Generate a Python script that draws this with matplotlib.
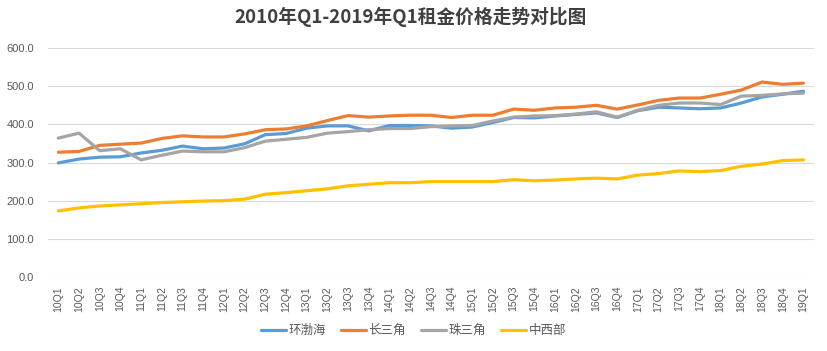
import matplotlib
matplotlib.use("Agg")
import matplotlib.pyplot as plt

plt.rcParams['font.family'] = ['Noto Sans CJK SC', 'DejaVu Sans']

quarters = ["10Q1", "10Q2", "10Q3", "10Q4", "11Q1", "11Q2", "11Q3", "11Q4",
            "12Q1", "12Q2", "12Q3", "12Q4", "13Q1", "13Q2", "13Q3", "13Q4",
            "14Q1", "14Q2", "14Q3", "14Q4", "15Q1", "15Q2", "15Q3", "15Q4",
            "16Q1", "16Q2", "16Q3", "16Q4", "17Q1", "17Q2", "17Q3", "17Q4",
            "18Q1", "18Q2", "18Q3", "18Q4", "19Q1"]

huanbohai = [299, 309, 314, 315, 325, 332, 343, 336, 338, 349, 373, 376,
             390, 396, 396, 383, 397, 397, 396, 390, 393, 405, 418, 417,
             422, 426, 430, 418, 436, 445, 443, 441, 443, 456, 472, 479, 487]
changsanjiao = [327, 329, 345, 348, 351, 363, 370, 367, 367, 375, 386, 388,
                396, 410, 423, 419, 422, 424, 424, 418, 424, 424, 440, 437,
                443, 445, 450, 440, 451, 463, 469, 469, 479, 490, 511, 505, 508]
zhusanjiao = [364, 377, 331, 336, 307, 319, 330, 328, 328, 339, 356, 361,
              366, 377, 381, 386, 389, 389, 394, 396, 397, 409, 419, 422,
              423, 427, 433, 419, 437, 450, 456, 456, 452, 474, 476, 480, 482]
zhongxibu = [173, 181, 186, 189, 192, 195, 197, 199, 200, 204, 217, 221,
             226, 231, 239, 243, 247, 247, 250, 250, 250, 250, 255, 252,
             254, 257, 259, 257, 267, 271, 278, 276, 279, 290, 296, 305, 307]

series_names = ["环渤海", "长三角", "珠三角", "中西部"]
series_values = [huanbohai, changsanjiao, zhusanjiao, zhongxibu]
colors = ["#5B9BD5", "#ED7D31", "#A5A5A5", "#FFC000"]

fig = plt.figure(figsize=(8.27, 3.51), dpi=100)
ax = fig.add_axes([0.058, 0.211, 0.926, 0.652])

x = list(range(len(quarters)))
for name, vals, c in zip(series_names, series_values, colors):
    ax.plot(x, vals, color=c, lw=2.3, label=name, solid_capstyle='round',
            solid_joinstyle='round')

ax.set_ylim(0, 600)
ax.set_xlim(-0.5, len(quarters) - 0.5)
ax.set_yticks(range(0, 601, 100))
ax.set_yticklabels([f"{v:.1f}" for v in range(0, 601, 100)],
                   family=['Liberation Sans', 'DejaVu Sans'], fontsize=8)
ax.set_xticks(x)
ax.set_xticklabels(quarters, rotation=90,
                   family=['Liberation Sans', 'DejaVu Sans'], fontsize=7.5)
ax.tick_params(axis='both', length=0, labelcolor="#595959")
ax.tick_params(axis='y', pad=10)
ax.tick_params(axis='x', pad=6.5)
ax.grid(axis='y', color="#D9D9D9", lw=0.8)
ax.set_axisbelow(True)
for s in ax.spines.values():
    s.set_visible(False)

fig.suptitle("2010年Q1-2019年Q1租金价格走势对比图", x=0.497, y=0.98,
             fontsize=13.5, fontweight='bold', color="#404040")

fig.legend(loc='center', bbox_to_anchor=(0.50, 0.058), ncol=4, frameon=False,
           fontsize=9, handlelength=2.0, columnspacing=1.2, handletextpad=0.2,
           labelcolor="#595959")

fig.savefig("out.png", dpi=100)
